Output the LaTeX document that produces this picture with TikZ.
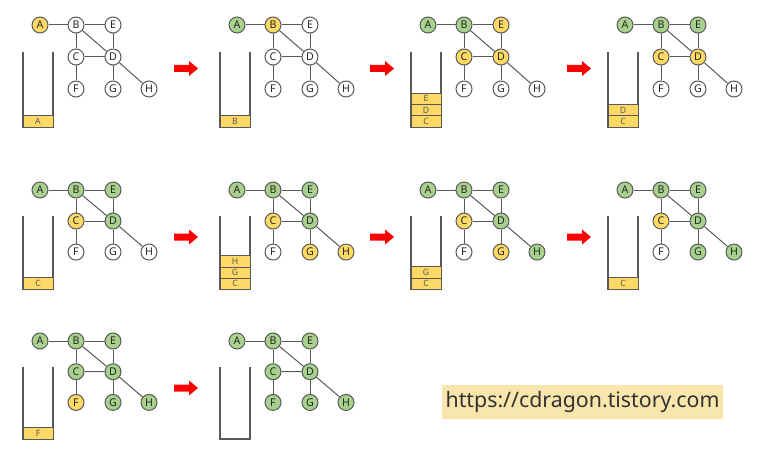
\documentclass[tikz,border=0pt]{standalone}
\usepackage{fontspec}
\setmainfont{Noto Sans}
\usepackage{xcolor}
\definecolor{visited}{HTML}{A9D18E}
\definecolor{onstack}{HTML}{FFD966}
\definecolor{edgegray}{HTML}{595959}
\definecolor{notegold}{HTML}{F8E6AD}
\tikzset{
    vtx/.style={circle, draw=edgegray, line width=0.75pt, minimum size=12pt, inner sep=0pt,
        font=\bfseries\fontsize{8}{8}\selectfont, text=black!85},
    seen/.style={vtx, fill=visited},
    cur/.style={vtx, fill=onstack},
    new/.style={vtx, fill=white},
    link/.style={draw=edgegray, line width=0.75pt},
    stackwall/.style={draw=edgegray, line width=1pt},
    stackbox/.style={draw=edgegray, fill=onstack, line width=0.6pt, minimum width=22.5pt,
        minimum height=8.5pt, inner sep=0pt, font=\fontsize{6.5}{6.5}\selectfont, text=edgegray},
    nextstep/.pic={\fill[red] (0,-3.5) -- (15,-3.5) -- (15,-7.5) -- (24,0) -- (15,7.5) -- (15,3.5) -- (0,3.5) -- cycle;}
}
\newcommand{\dfsgraph}[4]{%
    \begin{scope}[shift={(#2)}, yscale=#3]
        \coordinate (#1pA) at (0,0);
        \coordinate (#1pB) at (36,0);
        \coordinate (#1pE) at (73,0);
        \coordinate (#1pC) at (36,32);
        \coordinate (#1pD) at (73,32);
        \coordinate (#1pF) at (36,64);
        \coordinate (#1pG) at (73,64);
        \coordinate (#1pH) at (109,64);
        \foreach \v/\s in {#4}
            \node[\s] (#1\v) at (#1p\v) {\v};
        \foreach \u/\w in {A/B,B/E,B/C,B/D,E/D,C/D,C/F,D/G,D/H}
            \draw[link] (#1\u) -- (#1\w);
        \draw[stackwall] (-17,27) -- (-17,102) -- (13,102) -- (13,27);
    \end{scope}}
\newcommand{\dfsstack}[4]{%
    \begin{scope}[shift={(#2)}, yscale=#3]
        \foreach \s [count=\k] in {#4}
            \node[stackbox] (#1s\k) at (-2,{102-(\k-0.5)*11.3}) {\s};
    \end{scope}}
\begin{document}
\begin{tikzpicture}[x=0.75pt, y=-0.75pt]
    \useasboundingbox (0,0) rectangle (763,460);
    \dfsgraph{a}{40,25}{1}{A/cur,B/new,C/new,D/new,E/new,F/new,G/new,H/new}
    \dfsstack{a}{40,25}{1}{A}
    \dfsgraph{b}{237,25}{1}{A/seen,B/cur,C/new,D/new,E/new,F/new,G/new,H/new}
    \dfsstack{b}{237,25}{1}{B}
    \dfsgraph{c}{428,25}{1}{A/seen,B/seen,C/cur,D/cur,E/cur,F/new,G/new,H/new}
    \dfsstack{c}{428,25}{1}{C,D,E}
    \dfsgraph{d}{625,25}{1}{A/seen,B/seen,C/cur,D/cur,E/seen,F/new,G/new,H/new}
    \dfsstack{d}{625,25}{1}{C,D}
    \dfsgraph{e}{40,190}{0.97}{A/seen,B/seen,C/cur,D/seen,E/seen,F/new,G/new,H/new}
    \dfsstack{e}{40,190}{0.97}{C}
    \dfsgraph{f}{237,190}{0.97}{A/seen,B/seen,C/cur,D/seen,E/seen,F/new,G/cur,H/cur}
    \dfsstack{f}{237,190}{0.97}{C,G,H}
    \dfsgraph{g}{428,190}{0.97}{A/seen,B/seen,C/cur,D/seen,E/seen,F/new,G/cur,H/seen}
    \dfsstack{g}{428,190}{0.97}{C,G}
    \dfsgraph{h}{625,190}{0.97}{A/seen,B/seen,C/cur,D/seen,E/seen,F/new,G/seen,H/seen}
    \dfsstack{h}{625,190}{0.97}{C}
    \dfsgraph{i}{40,341}{0.96}{A/seen,B/seen,C/seen,D/seen,E/seen,F/cur,G/seen,H/seen}
    \dfsstack{i}{40,341}{0.96}{F}
    \dfsgraph{j}{237,341}{0.96}{A/seen,B/seen,C/seen,D/seen,E/seen,F/seen,G/seen,H/seen}
    \pic at (174,68.5) {nextstep};
    \pic at (370,68.5) {nextstep};
    \pic at (567,68.5) {nextstep};
    \pic at (174,237) {nextstep};
    \pic at (370,237) {nextstep};
    \pic at (567,237) {nextstep};
    \pic at (174,388) {nextstep};
    \node[fill=notegold, minimum width=210.75pt, minimum height=25.5pt, inner sep=0pt,
        text=black!80, font=\fontsize{16}{16}\selectfont] (blog) at (582.5,402) {https://cdragon.tistory.com};
\end{tikzpicture}
\end{document}
